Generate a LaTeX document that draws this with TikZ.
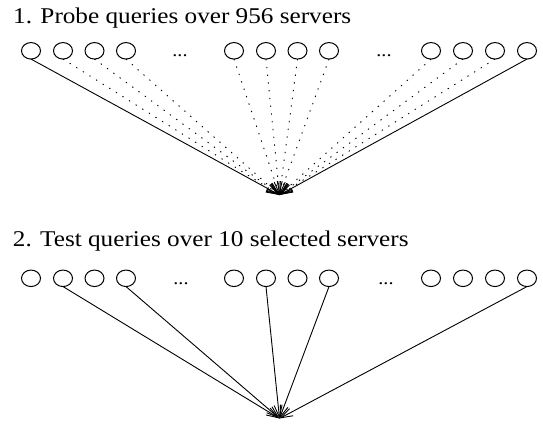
\documentclass[tikz,border=0pt]{standalone}
\usepackage{fontspec}
\setmainfont{Liberation Serif}
\usetikzlibrary{shapes.geometric,arrows.meta}
\tikzset{
  srv/.style={draw,ellipse,minimum width=19pt,minimum height=16.5pt,inner sep=0pt,outer sep=0pt,line width=1pt},
  title/.style={anchor=base west,inner sep=0pt,font=\fontsize{22.5}{26}\selectfont},
  dotsl/.style={anchor=base,inner sep=0pt,font=\fontsize{18}{20}\selectfont},
  link/.style={line width=0.9pt,-{Straight Barb[length=12pt,width=8pt]}},
  dotlink/.style={link,dash pattern=on 1.3pt off 6.5pt}
}
\begin{document}
\begin{tikzpicture}[x=1pt,y=-1pt]
\useasboundingbox (0,0) rectangle (543,424);
% titles
\node[title] (t1) at (13,23.3) {\scalebox{1.12}[1]{1. Probe queries over 956 servers}};
\node[title] (t2) at (12.7,246.7) {\scalebox{1.12}[1]{2. Test queries over 10 selected servers}};
% rows
\foreach \r/\y in {a/50.8,b/278.3}{
  \foreach \i/\x in {1/31,2/63,3/94.5,4/126,5/234,6/266,7/297.5,8/329,9/431,10/463,11/495,12/527}{
    \node[srv] (\r\i) at (\x,\y) {};
  }
}
\node[dotsl] (da1) at (180,56) {\scalebox{1.12}[1]{...}};
\node[dotsl] (da2) at (384,56) {\scalebox{1.12}[1]{...}};
\node[dotsl] (db1) at (181,284) {\scalebox{1.12}[1]{...}};
\node[dotsl] (db2) at (386,284) {\scalebox{1.12}[1]{...}};
% targets
\coordinate (ta) at (279.5,195);
\coordinate (tb) at (279.5,418.5);
% top links
\draw[link] (a1.south) -- (ta);
\draw[link] (a12.south) -- (ta);
\foreach \i in {2,...,11}{
  \draw[dotlink] (a\i.south) -- (ta);
}
% bottom links
\foreach \i in {2,4,6,8,12}{
  \draw[link] (b\i.south) -- (tb);
}
\end{tikzpicture}
\end{document}
